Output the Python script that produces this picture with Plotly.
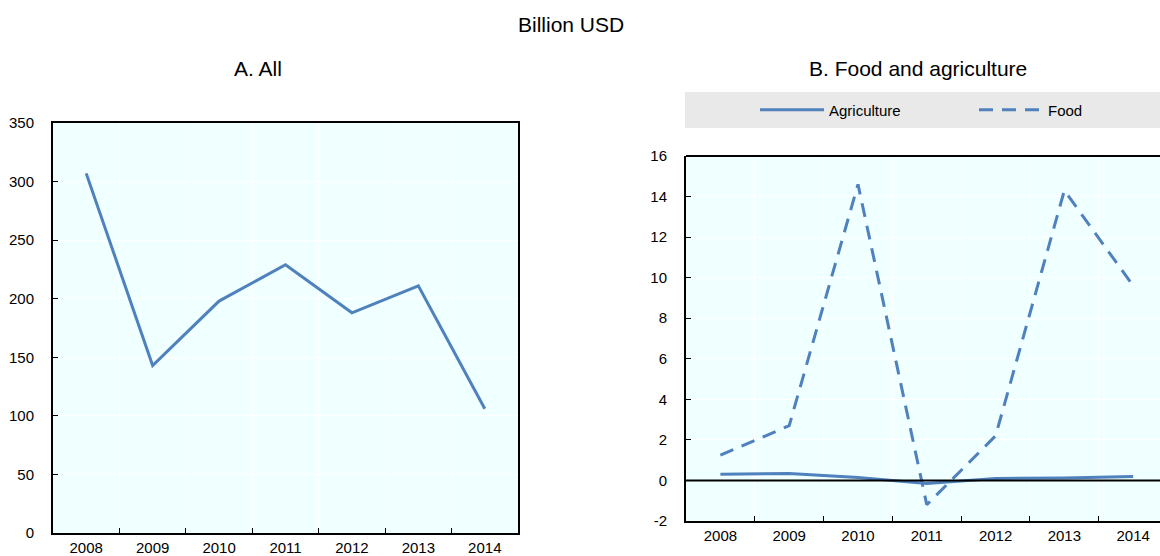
import plotly.graph_objects as go

years = ["2008", "2009", "2010", "2011", "2012", "2013", "2014"]
all_values = [307, 143, 198, 229, 188, 211, 106]
agriculture = [0.30, 0.34, 0.15, -0.15, 0.10, 0.12, 0.20]
food = [1.25, 2.7, 14.6, -1.2, 2.2, 14.3, 9.6]
right_ticks = [-2, 0, 2, 4, 6, 8, 10, 12, 14, 16]
right_tick_labels = ["-2", "0", "2", "4", "6", "8", "10", "12", "14", "16"]

W, H = 1160, 556
BLUE = "#4F81BD"
FONT = "Liberation Sans"
DASH = "14px,9px"

def px(x):
    return x / W

def py(y):
    return 1 - y / H

fig = go.Figure()
fig.add_trace(go.Scatter(x=years, y=all_values, mode="lines", line=dict(color=BLUE, width=3),
                         showlegend=False, xaxis="x", yaxis="y"))
fig.add_trace(go.Scatter(x=years, y=agriculture, mode="lines", name="Agriculture",
                         line=dict(color=BLUE, width=3), xaxis="x2", yaxis="y2"))
fig.add_trace(go.Scatter(x=years, y=food, mode="lines", name="Food",
                         line=dict(color=BLUE, width=3, dash=DASH), xaxis="x2", yaxis="y2"))

common_x = dict(type="category", tickson="boundaries", ticks="inside", ticklen=5, tickcolor="black",
                showgrid=True, gridcolor="white", gridwidth=1, showline=True, linecolor="black",
                linewidth=2, tickfont=dict(family=FONT, size=15, color="black"), ticklabelstandoff=0)
common_y = dict(ticks="inside", ticklen=5, tickcolor="black", showgrid=True, gridcolor="white",
                gridwidth=1, showline=True, linecolor="black", linewidth=2, zeroline=False,
                tickfont=dict(family=FONT, size=15, color="black"), ticklabelstandoff=14)

fig.update_layout(
    width=W, height=H, margin=dict(l=0, r=0, t=0, b=0, autoexpand=False),
    paper_bgcolor="white", plot_bgcolor="#F0FFFF",
    font=dict(family=FONT, color="black"),
    xaxis=dict(domain=[px(53), px(518)], range=[-0.5, 6.5], mirror=True, **common_x),
    yaxis=dict(domain=[py(533), py(123)], range=[0, 350], dtick=50, mirror=True, **common_y),
    xaxis2=dict(domain=[px(686), 1.0], range=[-0.5, 6.39], anchor="y2", mirror=False, **common_x),
    yaxis2=dict(domain=[py(521), py(156)], range=[-2, 16], tickmode="array", tickvals=right_ticks,
                ticktext=right_tick_labels, anchor="x2", **common_y),
    showlegend=True,
    legend=dict(orientation="h", x=px(755), y=py(110), xanchor="left", yanchor="middle",
                bgcolor="rgba(0,0,0,0)", font=dict(family=FONT, size=15, color="black"),
                itemwidth=64, entrywidth=140, entrywidthmode="pixels"),
    shapes=[
        dict(type="rect", xref="paper", yref="paper", x0=px(685), x1=1.0, y0=py(128), y1=py(92),
             fillcolor="#E9E9E9", line=dict(width=0), layer="below"),
        dict(type="line", xref="paper", yref="paper", x0=px(686), x1=1.0, y0=py(156), y1=py(156),
             line=dict(color="black", width=2)),
        dict(type="line", xref="x2 domain", yref="y2", x0=0, x1=1, y0=0, y1=0,
             line=dict(color="black", width=2)),
    ],
    annotations=[
        dict(text="Billion USD", x=px(570.5), y=py(25), xref="paper", yref="paper", showarrow=False,
             xanchor="center", yanchor="middle", font=dict(family=FONT, size=21, color="black")),
        dict(text="A. All", x=px(258), y=py(68), xref="paper", yref="paper", showarrow=False,
             xanchor="center", yanchor="middle", font=dict(family=FONT, size=21, color="black")),
        dict(text="B. Food and agriculture", x=px(917.5), y=py(68), xref="paper", yref="paper",
             showarrow=False, xanchor="center", yanchor="middle",
             font=dict(family=FONT, size=21, color="black")),
    ],
)

fig.write_html("out.html")
